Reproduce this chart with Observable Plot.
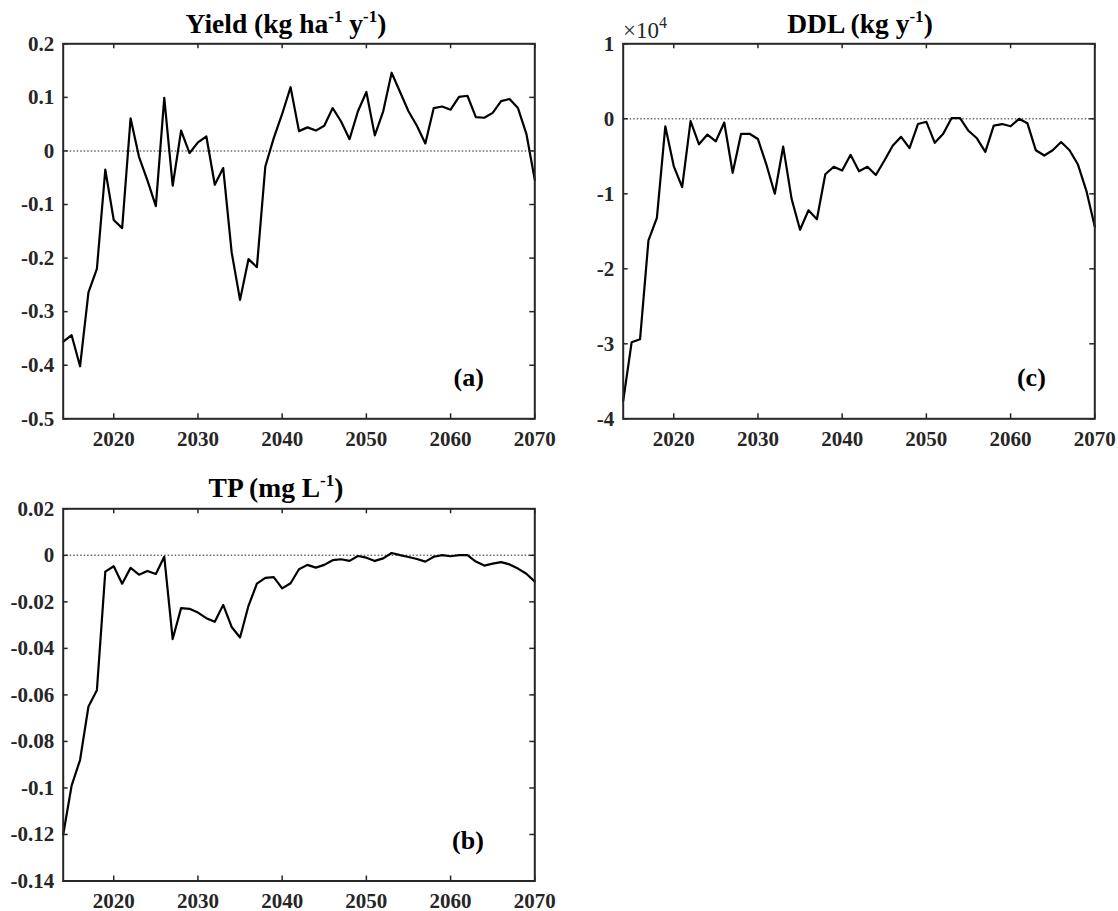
<!DOCTYPE html>
<html><head><meta charset="utf-8">
<script src="https://cdn.jsdelivr.net/npm/d3@7"></script>
<script src="https://cdn.jsdelivr.net/npm/@observablehq/plot@0.6"></script>
<style>
body{margin:0;background:#fff;}
#wrap{position:relative;width:1118px;height:911px;background:#fff;}
#wrap svg{position:absolute;overflow:visible;}
#wrap g[aria-label$="tick label"]{font-size:21px !important;font-weight:bold;}
</style></head><body><div id="wrap"></div>
<script>
const years = [2014,2015,2016,2017,2018,2019,2020,2021,2022,2023,2024,2025,2026,2027,2028,2029,2030,
  2031,2032,2033,2034,2035,2036,2037,2038,2039,2040,2041,2042,2043,2044,2045,2046,2047,2048,2049,2050,
  2051,2052,2053,2054,2055,2056,2057,2058,2059,2060,2061,2062,2063,2064,2065,2066,2067,2068,2069,2070];

const yieldVals = [-0.356,-0.344,-0.402,-0.264,-0.220,-0.035,-0.129,-0.144,0.061,-0.011,-0.055,-0.103,0.099,
  -0.065,0.038,-0.004,0.016,0.027,-0.063,-0.032,-0.189,-0.278,-0.202,-0.217,-0.029,0.024,0.069,0.119,0.037,
  0.044,0.038,0.047,0.080,0.055,0.022,0.074,0.110,0.029,0.074,0.146,0.110,0.074,0.047,0.014,0.080,0.083,
  0.077,0.101,0.103,0.063,0.062,0.071,0.093,0.097,0.080,0.032,-0.054];

const ddlVals = [-37600,-29800,-29400,-16200,-13200,-1000,-6300,-9100,-300,-3400,-2100,-3000,-500,-7200,
  -2000,-2000,-2700,-6100,-10000,-3700,-10700,-14800,-12200,-13400,-7400,-6400,-6900,-4800,-7000,-6400,
  -7500,-5600,-3600,-2400,-3900,-700,-400,-3200,-2000,100,100,-1600,-2600,-4400,-900,-700,-1000,0,-600,
  -4200,-4900,-4200,-3100,-4200,-6100,-9600,-14400];

const tpVals = [-0.120,-0.099,-0.088,-0.065,-0.058,-0.0070,-0.0047,-0.0122,-0.0054,-0.0083,-0.0067,-0.0080,
  -0.0006,-0.036,-0.0227,-0.023,-0.0246,-0.027,-0.0286,-0.0213,-0.0308,-0.0353,-0.0217,-0.0122,-0.0097,
  -0.0094,-0.0142,-0.012,-0.006,-0.0041,-0.0053,-0.0041,-0.0021,-0.0017,-0.0024,-0.0003,-0.0010,-0.0024,
  -0.0013,0.0010,0.0001,-0.0007,-0.0016,-0.0027,-0.0006,0.0001,-0.0004,0.0001,0.0001,-0.0027,-0.0044,
  -0.0036,-0.0029,-0.0039,-0.0057,-0.0079,-0.0113];

const xTicks = [2020,2030,2040,2050,2060,2070];
const yieldTicks = [-0.5,-0.4,-0.3,-0.2,-0.1,0,0.1,0.2];
const ddlTicks = [-40000,-30000,-20000,-10000,0,10000];
const tpTicks = [-0.14,-0.12,-0.1,-0.08,-0.06,-0.04,-0.02,0,0.02];

const SERIF = "'Liberation Serif','Times New Roman',serif";
const wrap = document.getElementById("wrap");

function panel(o) {
  const rows = years.map((y, i) => ({year: y, value: o.values[i]}));
  const W = o.width - o.mLeft - o.mRight;
  const H = o.height - o.mTop - o.mBottom;
  const tk = 5;
  const chart = Plot.plot({
    width: o.width, height: o.height,
    marginTop: o.mTop, marginBottom: o.mBottom, marginLeft: o.mLeft, marginRight: o.mRight,
    style: {fontFamily: SERIF, fontSize: "21px", fontWeight: "bold", color: "#262626", background: "transparent", overflow: "visible"},
    x: {domain: [2014, 2070], label: null},
    y: {domain: o.yDomain, label: null},
    marks: [
      Plot.axisX(xTicks, {anchor: "bottom", tickSize: 0, tickPadding: 12, tickFormat: d => String(d), fontSize: 21, fontWeight: "bold", label: null}),
      Plot.axisY(o.yTicks, {anchor: "left", tickSize: 0, tickPadding: 9, tickFormat: o.fmt, fontSize: 21, fontWeight: "bold", label: null}),
      Plot.ruleY([0], {stroke: "#6a6a6a", strokeWidth: 1.5, strokeDasharray: "1.5,2"}),
      Plot.lineY(rows, {x: "year", y: "value", stroke: "#000", strokeWidth: 2.2}),
      Plot.tickX(xTicks, {x: d => d, insetTop: H - tk, stroke: "#262626", strokeWidth: 1.5}),
      Plot.tickX(xTicks, {x: d => d, insetBottom: H - tk, stroke: "#262626", strokeWidth: 1.5}),
      Plot.tickY(o.yTicks, {y: d => d, insetRight: W - tk, stroke: "#262626", strokeWidth: 1.5}),
      Plot.tickY(o.yTicks, {y: d => d, insetLeft: W - tk, stroke: "#262626", strokeWidth: 1.5}),
      Plot.frame({stroke: "#262626", strokeWidth: 2}),
      Plot.text([o.tag], {text: d => d, frameAnchor: "bottom-right", textAnchor: "end", lineAnchor: "bottom",
        dx: o.tagDx, dy: o.tagDy, fontSize: 26, fontWeight: "bold", fill: "#000"})
    ]
  });
  chart.style.left = o.left + "px";
  chart.style.top = o.top + "px";
  wrap.appendChild(chart);
  const svg = d3.select(chart);
  const t = svg.append("text")
    .attr("x", o.titleX).attr("y", o.titleY)
    .attr("text-anchor", "middle")
    .attr("font-family", SERIF).attr("font-weight", "bold").attr("font-size", 27.5).attr("fill", "#000");
  for (const [s, sup] of o.title) {
    const ts = t.append("tspan").text(s);
    if (sup) ts.attr("font-size", 17).attr("dy", -11);
    else ts.attr("dy", 11);
  }
  t.select("tspan").attr("dy", 0);
  return svg;
}

panel({values: yieldVals, yDomain: [-0.5, 0.2], yTicks: yieldTicks, fmt: d => String(d),
  left: 0, top: 0, width: 560, height: 460, mTop: 43.3, mBottom: 41.7, mLeft: 62.7, mRight: 25.7,
  tag: "(a)", tagDx: -51, tagDy: -33,
  titleX: 286, titleY: 33, title: [["Yield (kg ha", false], ["-1", true], [" y", false], ["-1", true], [")", false]]});

const c = panel({values: ddlVals, yDomain: [-40000, 10000], yTicks: ddlTicks, fmt: d => String(d / 10000),
  left: 560, top: 0, width: 558, height: 460, mTop: 43.3, mBottom: 41.7, mLeft: 62.7, mRight: 23.7,
  tag: "(c)", tagDx: -49, tagDy: -33,
  titleX: 300, titleY: 33, title: [["DDL (kg y", false], ["-1", true], [")", false]]});
const m = c.append("text").attr("x", 63).attr("y", 38).attr("text-anchor", "start")
  .attr("font-family", SERIF).attr("font-weight", "normal").attr("font-size", 23).attr("fill", "#262626");
m.append("tspan").text("\u00D710");
m.append("tspan").text("4").attr("font-size", 16).attr("dy", -10);

panel({values: tpVals, yDomain: [-0.14, 0.02], yTicks: tpTicks, fmt: d => String(d),
  left: 0, top: 460, width: 560, height: 451, mTop: 48.3, mBottom: 30.5, mLeft: 62.7, mRight: 25.7,
  tag: "(b)", tagDx: -51, tagDy: -32,
  titleX: 276, titleY: 36.7, title: [["TP (mg L", false], ["-1", true], [")", false]]});
</script>
</body></html>
